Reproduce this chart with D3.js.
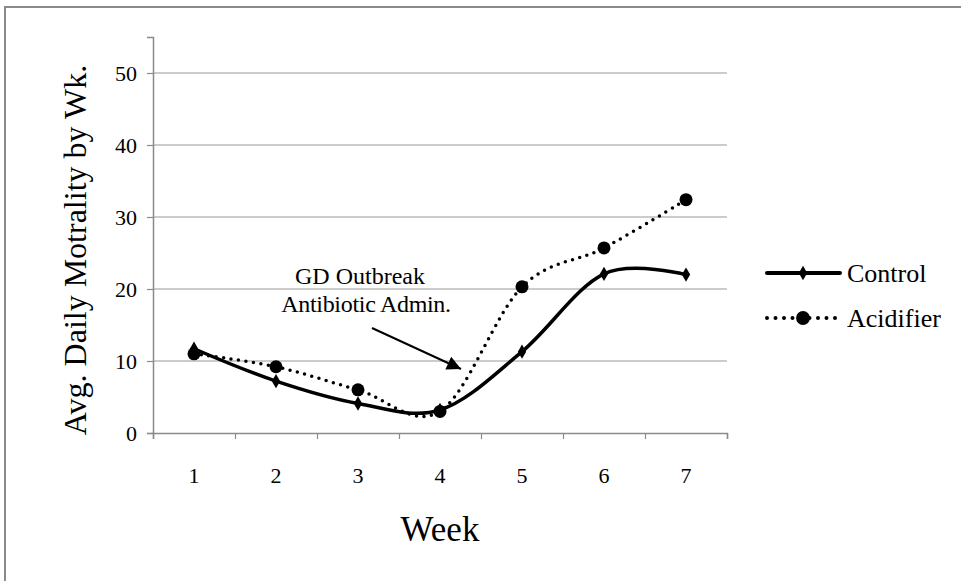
<!DOCTYPE html>
<html>
<head>
<meta charset="utf-8">
<script src="https://cdn.jsdelivr.net/npm/d3@7"></script>
<style>
  body { margin: 0; background: #fff; }
  svg text { font-family: "Liberation Serif", "Times New Roman", serif !important; }
</style>
</head>
<body>
<div id="chart"></div>
<script>
// data
var weeks = [1, 2, 3, 4, 5, 6, 7];
var control = [11.7, 7.2, 4.1, 3.2, 11.3, 22.1, 22.0];
var acidifier = [11.0, 9.2, 6.0, 3.0, 20.3, 25.7, 32.4];
var yTicks = [0, 10, 20, 30, 40, 50];
var seriesNames = ["Control", "Acidifier"];

var width = 961,
    height = 581,
    serif = "'Liberation Serif', 'Times New Roman', serif";

var margin = {left: 153, right: 727, top: 37, bottom: 433};

var svg = d3.select("#chart")
    .append("svg")
    .attr("width", width)
    .attr("height", height)
    .attr("font-family", serif);

// outer chart frame
svg.append("rect")
    .attr("x", 5)
    .attr("y", 7)
    .attr("width", 1100)
    .attr("height", 1100)
    .style("fill", "none")
    .style("stroke", "#8a8a8a")
    .style("stroke-width", 2);

var x = d3.scaleLinear()
    .domain([0.5, 7.5])
    .range([margin.left, margin.right]);

var y = d3.scaleLinear()
    .domain([0, 55])
    .range([margin.bottom, margin.top]);

// gridlines
svg.append("g")
    .selectAll("line")
    .data(yTicks.filter(d => d > 0))
    .enter()
    .append("line")
    .attr("x1", margin.left)
    .attr("x2", margin.right)
    .attr("y1", d => y(d))
    .attr("y2", d => y(d))
    .style("stroke", "#9a9a9a")
    .style("stroke-width", 1.2);

// y axis
var yAxis = svg.append("g")
    .attr("transform", "translate(" + margin.left + ",0)")
    .call(d3.axisLeft(y).tickValues(yTicks).tickSize(6).tickPadding(10).tickFormat(d3.format("d")));

// x axis, ticks between the categories
var xAxis = svg.append("g")
    .attr("transform", "translate(0," + margin.bottom + ")")
    .call(d3.axisBottom(x).tickValues(d3.range(0.5, 8, 1)).tickSize(6).tickFormat(""));

[yAxis, xAxis].forEach(function(g) {
  g.attr("font-family", serif);
  g.select(".domain").style("stroke", "#8a8a8a").style("stroke-width", 1.5);
  g.selectAll(".tick line").style("stroke", "#8a8a8a").style("stroke-width", 1.2);
  g.selectAll("text").style("font-size", "22px").style("fill", "#000");
});

// x category labels
svg.append("g")
    .selectAll("text")
    .data(weeks)
    .enter()
    .append("text")
    .attr("x", d => x(d))
    .attr("y", 483)
    .attr("text-anchor", "middle")
    .style("font-size", "22px")
    .text(d => d);

// axis titles
svg.append("text")
    .attr("x", 440)
    .attr("y", 541)
    .attr("text-anchor", "middle")
    .style("font-size", "35px")
    .text("Week");

svg.append("text")
    .attr("transform", "translate(86,250) rotate(-90)")
    .attr("text-anchor", "middle")
    .style("font-size", "32px")
    .text("Avg. Daily Motrality by Wk.");

// lines (Excel style smoothing)
var line = d3.line()
    .x((d, i) => x(weeks[i]))
    .y(d => y(d))
    .curve(d3.curveCardinal.tension(0));

svg.append("path")
    .datum(acidifier)
    .attr("d", line)
    .style("fill", "none")
    .style("stroke", "#000")
    .style("stroke-width", 3.5)
    .style("stroke-linecap", "round")
    .style("stroke-dasharray", "0 7.5");

svg.append("path")
    .datum(control)
    .attr("d", line)
    .style("fill", "none")
    .style("stroke", "#000")
    .style("stroke-width", 3.5);

// markers
svg.append("g")
    .selectAll("circle")
    .data(acidifier)
    .enter()
    .append("circle")
    .attr("cx", (d, i) => x(weeks[i]))
    .attr("cy", d => y(d))
    .attr("r", 6.5)
    .style("fill", "#000");

var diamond = d3.symbol().type(d3.symbolDiamond).size(60);

svg.append("g")
    .selectAll("path")
    .data(control)
    .enter()
    .append("path")
    .attr("d", diamond)
    .attr("transform", (d, i) => "translate(" + x(weeks[i]) + "," + y(d) + ")")
    .style("fill", "#000");

// annotation with arrow
svg.append("defs")
    .append("marker")
    .attr("id", "head")
    .attr("viewBox", "0 0 10 10")
    .attr("refX", 10)
    .attr("refY", 5)
    .attr("markerUnits", "userSpaceOnUse")
    .attr("markerWidth", 16)
    .attr("markerHeight", 14)
    .attr("orient", "auto")
    .append("path")
    .attr("d", "M0,0 L10,5 L0,10 Z")
    .style("fill", "#000");

svg.append("line")
    .attr("x1", 372)
    .attr("y1", 328)
    .attr("x2", 461)
    .attr("y2", 369)
    .style("stroke", "#000")
    .style("stroke-width", 2)
    .attr("marker-end", "url(#head)");

svg.append("text")
    .attr("x", 360)
    .attr("y", 284)
    .attr("text-anchor", "middle")
    .style("font-size", "24px")
    .text("GD Outbreak");

svg.append("text")
    .attr("x", 366)
    .attr("y", 312)
    .attr("text-anchor", "middle")
    .style("font-size", "24px")
    .style("letter-spacing", "-0.3px")
    .text("Antibiotic Admin.");

// legend
var legend = svg.append("g")
    .selectAll("g")
    .data(seriesNames)
    .enter()
    .append("g")
    .attr("transform", (d, i) => "translate(767," + (273 + i * 45) + ")");

legend.append("line")
    .attr("x1", 0)
    .attr("x2", 73)
    .style("stroke", "#000")
    .style("stroke-width", 4)
    .style("stroke-linecap", "round")
    .style("stroke-dasharray", (d, i) => i ? "0 8.5" : null);

legend.append("path")
    .attr("d", (d, i) => i ? d3.symbol().type(d3.symbolCircle).size(150)() : diamond())
    .attr("transform", "translate(36,0)")
    .style("fill", "#000");

legend.append("text")
    .attr("x", 80)
    .attr("y", 9)
    .style("font-size", "26px")
    .text(d => d);
</script>
</body>
</html>
